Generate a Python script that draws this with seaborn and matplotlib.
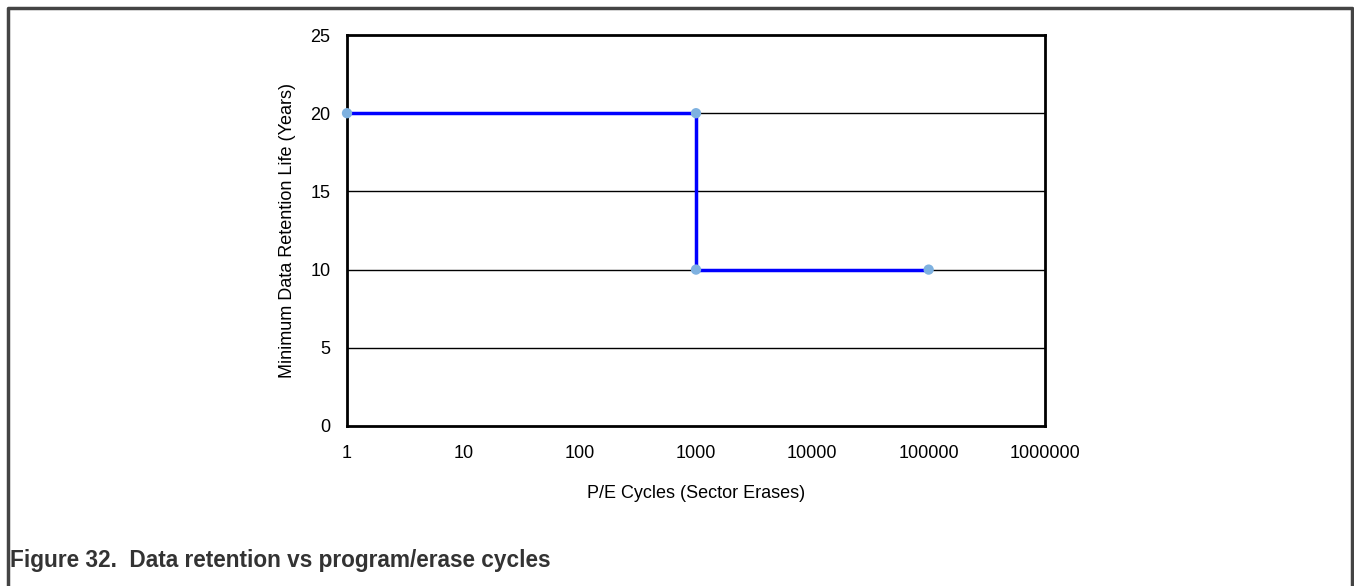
import matplotlib
matplotlib.use("Agg")
import matplotlib.pyplot as plt
import seaborn as sns
import pandas as pd
from matplotlib.lines import Line2D

cycles = [1, 1000, 1000, 100000]
retention_years = [20, 20, 10, 10]
x_ticks = [1, 10, 100, 1000, 10000, 100000, 1000000]
x_tick_labels = ["1", "10", "100", "1000", "10000", "100000", "1000000"]
y_ticks = [0, 5, 10, 15, 20, 25]

sns.set_theme(style="white")
plt.rcParams['font.family'] = ['Liberation Sans', 'DejaVu Sans']

df = pd.DataFrame({"cycles": cycles, "years": retention_years, "order": range(len(cycles))})

fig = plt.figure(figsize=(13.54, 5.86), dpi=100)
ax = fig.add_axes([347/1354, 1-426/586, (1045-347)/1354, (426-35)/586])

ax.set_xscale("log")
ax.set_xlim(1, 1e6)
ax.set_ylim(0, 25)
ax.set_yticks(y_ticks)
ax.set_xticks(x_ticks)
ax.set_xticklabels(x_tick_labels)
ax.xaxis.set_minor_locator(matplotlib.ticker.NullLocator())
for yv in y_ticks[1:-1]:
    ax.axhline(yv, color="black", lw=1.0, zorder=1)

sns.lineplot(data=df, x="cycles", y="years", sort=False, estimator=None,
             color="#0000FF", lw=2.5, ax=ax, zorder=3)
sns.scatterplot(data=df, x="cycles", y="years", color="#7EB1E0", s=55,
                edgecolor="none", ax=ax, zorder=4, clip_on=False)

for s in ax.spines.values():
    s.set_color("black")
    s.set_linewidth(2)
    s.set_visible(True)

ax.tick_params(axis="both", length=0, labelsize=13, colors="black")
ax.tick_params(axis="x", pad=14)
ax.tick_params(axis="y", pad=12)
ax.set_xlabel("P/E Cycles (Sector Erases)", fontsize=13, labelpad=16, color="black")
ax.set_ylabel("Minimum Data Retention Life (Years)", fontsize=13, labelpad=10, color="black")

# outer frame
W, H = 1354, 586
frame = Line2D([7.5/W, 7.5/W, 1352/W, 1352/W], [0, 1-8/H, 1-8/H, 0],
               transform=fig.transFigure, color="#444444", lw=2.5)
fig.add_artist(frame)

fig.text(10/W, 1-561/H, "Figure 32.  Data retention vs program/erase cycles",
         fontsize=16.3, fontweight="bold", color="#333333", va="center", ha="left")

fig.savefig("out.png", dpi=100)
